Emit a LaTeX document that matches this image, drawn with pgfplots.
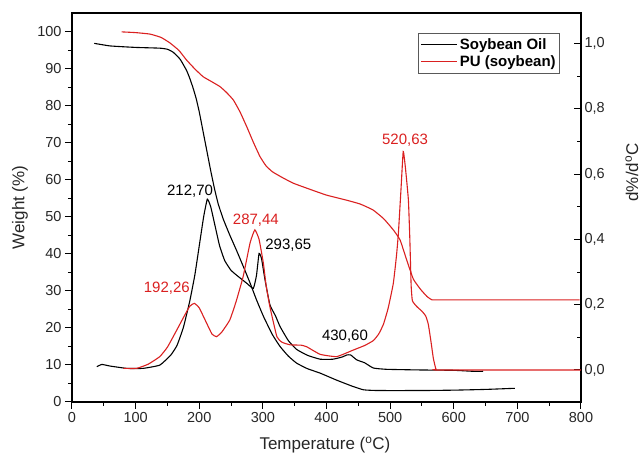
\documentclass[border=0pt]{standalone}
\usepackage{fontspec}
\setmainfont{Liberation Sans}
\usepackage{pgfplots}
\pgfplotsset{compat=1.18}
\definecolor{myred}{RGB}{218,32,32}

\begin{document}
\begin{tikzpicture}
\useasboundingbox (-72pt,-53pt) rectangle (569pt,402pt);
\begin{axis}[
  scale only axis, width=509pt, height=389pt,
  xmin=0, xmax=800, ymin=0, ymax=105.1,
  xtick={0,100,200,300,400,500,600,700,800}, minor x tick num=1,
  ytick={0,10,20,30,40,50,60,70,80,90,100}, minor y tick num=1,
  tick align=outside, xtick pos=bottom, ytick pos=left,
  major tick length=7pt, minor tick length=4pt,
  tick style={line width=1pt, black},
  axis line style={line width=1.2pt},
  /pgf/number format/assume math mode=true,
  tick label style={font=\fontsize{14.5}{17}\selectfont, text=black!85},
  xlabel={Temperature (\textsuperscript{o}C)},
  ylabel={Weight (\%)},
  label style={font=\fontsize{17}{20}\selectfont, text=black!85},
  xlabel style={at={(axis description cs:0.497,-0.11)}, anchor=center},
  ylabel style={at={(axis description cs:-0.102,0.5)}, anchor=center},
  every axis plot/.append style={line width=1.1pt, smooth, tension=0.25},
]
% Soybean oil TGA
\addplot[black] coordinates {
(35,96.9) (60,96.2) (100,95.8) (138,95.6) (150,95.3) (159,94.5) (170,92.6)
(180,89.6) (185,87.5) (190,85.0) (195,82.1) (200,78.4) (206,73.1) (212,67.8)
(218,62.5) (224,57.6) (230,53.4) (238,49.3) (248,45.1) (259,40.8) (270,36.3)
(280,32.1) (290,27.6) (301,23.1) (315,18.2) (327,15.0) (340,12.4) (353,10.5)
(370,9.0) (390,7.8) (416,5.9) (440,4.3) (458,3.3) (480,3.1) (550,3.1) (600,3.2)
(650,3.4) (696,3.7)};
% PU TGA
\addplot[myred] coordinates {
(78,100) (100,99.8) (122.6,99.4) (140,98.5) (154,97) (168,95) (180,92.4)
(193,90) (206,87.9) (220,86.5) (232.7,85.2) (243,83.6) (253.6,81.6) (264,78.4)
(274.6,74.4) (285,70.2) (295.5,66.3) (305,63.8) (315,62.2) (330,60.7) (348,59.1)
(375,57.4) (400,55.9) (430,54.6) (452.7,53.5) (473,51.9) (490,49.5) (505,46.5)
(515.6,43.8) (526,38.4) (536.5,33.2) (548,30.4) (558,28.5) (566,27.6) (580,27.6)
(798,27.6)};
\end{axis}

\begin{axis}[
  scale only axis, width=509pt, height=389pt,
  xmin=0, xmax=800, ymin=-0.098, ymax=1.093,
  axis x line=none, axis y line*=right,
  ytick={0,0.2,0.4,0.6,0.8,1.0}, minor y tick num=1,
  tick align=inside,
  major tick length=7pt, minor tick length=4pt,
  tick style={line width=1pt, black},
  axis line style={line width=1.2pt},
  /pgf/number format/assume math mode=true,
  /pgf/number format/.cd, use comma, fixed, fixed zerofill, precision=1, /pgfplots/.cd,
  tick label style={font=\fontsize{14.5}{17}\selectfont, text=black!85},
  ylabel={d\%/d\textsuperscript{o}C},
  label style={font=\fontsize{17}{20}\selectfont, text=black!85},
  ylabel style={at={(axis description cs:1.1,0.59)}, anchor=center},
  every axis plot/.append style={line width=1.1pt, smooth, tension=0.25},
  legend style={at={(0.959,0.949)}, anchor=north east, draw=black!65, line width=0.8pt,
     font=\bfseries\fontsize{15}{17}\selectfont, inner xsep=2pt, inner ysep=3pt, row sep=1pt},
  legend cell align=left,
  legend image code/.code={\draw[#1, line width=1.1pt] (0pt,0pt) -- (36pt,0pt);},
]
\addlegendimage{black}
\addlegendentry{Soybean Oil}
\addlegendimage{myred}
\addlegendentry{PU (soybean)}
% Soybean oil DTG
\addplot[black] coordinates {
(39,0.010) (47,0.017) (60,0.012) (86,0.005) (112,0.005) (138,0.015) (155,0.045)
(165,0.075) (175,0.13) (185,0.21) (193,0.29) (200,0.38) (207,0.47) (212.7,0.523)
(218,0.50) (225,0.44) (232,0.38) (240,0.335) (250,0.305) (262,0.285) (275,0.265)
(285,0.250) (290,0.29) (294,0.357) (298,0.34) (303,0.28) (311,0.20) (320,0.165)
(327,0.133) (340,0.09) (353,0.063) (370,0.045) (390,0.033) (410,0.033) (425,0.040)
(432,0.046) (438,0.046) (447.5,0.031) (460,0.022) (473.6,0.006) (495,0.002)
(550,0.0) (600,-0.001) (630,-0.004) (646,-0.004)};
% PU DTG
\addplot[myred] coordinates {
(80.7,0.005) (101.7,0.005) (120,0.018) (138,0.041) (150,0.07) (164.6,0.122)
(175,0.16) (185,0.195) (192.3,0.204) (200,0.19) (211.7,0.143) (220,0.11) (227,0.102)
(235,0.115) (248,0.153) (258,0.21) (269,0.286) (280,0.39) (287.4,0.429) (294,0.40)
(300.8,0.327) (305,0.26) (311,0.194) (322,0.102) (330,0.085) (343,0.077) (360,0.076)
(369,0.071) (390,0.048) (416,0.041) (442,0.061) (460,0.075) (473.6,0.09) (482,0.11)
(489.5,0.14) (497,0.19) (505,0.265) (510,0.35) (513,0.419) (517,0.55) (520.6,0.669)
(524,0.62) (528.7,0.521) (531,0.40) (533,0.26) (535,0.212) (542,0.194) (550,0.18)
(556,0.165) (560,0.14) (564,0.09) (568,0.035) (572,0.003) (576,0.0) (800,0.0)};
\node[font=\fontsize{15}{17}\selectfont, text=black] at (axis cs:185.5,0.546) {212,70};
\node[font=\fontsize{15}{17}\selectfont, text=myred] at (axis cs:289,0.459) {287,44};
\node[font=\fontsize{15}{17}\selectfont, text=black] at (axis cs:340,0.383) {293,65};
\node[font=\fontsize{15}{17}\selectfont, text=myred] at (axis cs:149,0.250) {192,26};
\node[font=\fontsize{15}{17}\selectfont, text=black] at (axis cs:429,0.102) {430,60};
\node[font=\fontsize{15}{17}\selectfont, text=myred] at (axis cs:523.5,0.702) {520,63};
\end{axis}
\end{tikzpicture}
\end{document}
